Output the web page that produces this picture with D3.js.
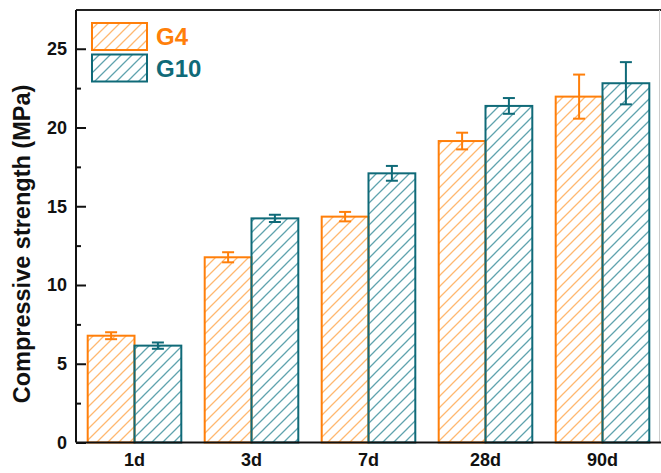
<!DOCTYPE html>
<html><head><meta charset="utf-8">
<script src="https://cdn.jsdelivr.net/npm/d3@7"></script>
<style>body{margin:0;background:#fff}svg{display:block}</style>
</head><body>
<svg id="c" width="661" height="473"></svg>
<script>
const categories = ["1d","3d","7d","28d","90d"];
const seriesNames = ["G4","G10"];
const g4Values = [6.78, 11.76, 14.34, 19.14, 21.96];
const g4Errors = [0.22, 0.32, 0.30, 0.53, 1.40];
const g10Values = [6.15, 14.23, 17.09, 21.37, 22.81];
const g10Errors = [0.20, 0.23, 0.47, 0.50, 1.34];
const yTicks = [0, 5, 10, 15, 20, 25];
const yMinorTicks = [2.5, 7.5, 12.5, 17.5, 22.5];
const yLabel = "Compressive strength (MPa)";

const colors = {G4: {stroke: "#FF7F0A", hatch: "#FFB870"}, G10: {stroke: "#0F6A78", hatch: "#5FA3AE"}};
const FONT = "Liberation Sans, Arial, sans-serif";

const svg = d3.select("#c");
const L = 76, R = 661, T = 10, B = 442.5;
const x = d3.scaleBand().domain(categories).range([L, R]).paddingInner(0.2).paddingOuter(0.1);
const xs = d3.scaleBand().domain(seriesNames).range([0, x.bandwidth()]);
const y = d3.scaleLinear().domain([0, 27.46]).range([B, T]);

const defs = svg.append("defs");
seriesNames.forEach(s => {
  const p = defs.append("pattern").attr("id", "h" + s).attr("patternUnits", "userSpaceOnUse")
    .attr("width", 11).attr("height", 11);
  p.append("path").attr("d", "M0,11 L11,0 M-2,2 L2,-2 M9,13 L13,9")
    .attr("stroke", colors[s].hatch).attr("stroke-width", 1.3).attr("fill", "none");
});

const data = [];
categories.forEach((c, i) => {
  data.push({cat: c, s: "G4", v: g4Values[i], e: g4Errors[i]});
  data.push({cat: c, s: "G10", v: g10Values[i], e: g10Errors[i]});
});

// bars
svg.append("g").selectAll("rect").data(data).join("rect")
  .attr("x", d => x(d.cat) + xs(d.s))
  .attr("y", d => y(d.v))
  .attr("width", xs.bandwidth())
  .attr("height", d => y(0) - y(d.v))
  .attr("fill", d => `url(#h${d.s})`)
  .attr("stroke", d => colors[d.s].stroke)
  .attr("stroke-width", 2);

// error bars
const eg = svg.append("g");
data.forEach(d => {
  const cx = x(d.cat) + xs(d.s) + xs.bandwidth() / 2;
  const col = colors[d.s].stroke;
  eg.append("line").attr("x1", cx).attr("x2", cx).attr("y1", y(d.v + d.e)).attr("y2", y(d.v - d.e))
    .attr("stroke", col).attr("stroke-width", 2);
  [d.v + d.e, d.v - d.e].forEach(v => {
    eg.append("line").attr("x1", cx - 6).attr("x2", cx + 6).attr("y1", y(v)).attr("y2", y(v))
      .attr("stroke", col).attr("stroke-width", 2);
  });
});

// frame
svg.append("line").attr("x1", L).attr("x2", R).attr("y1", T).attr("y2", T).attr("stroke", "#222").attr("stroke-width", 2);
svg.append("line").attr("x1", 659.5).attr("x2", 659.5).attr("y1", T).attr("y2", B).attr("stroke", "#ccc").attr("stroke-width", 1);

// y axis
const yAxis = svg.append("g").attr("transform", `translate(${L},0)`)
  .call(d3.axisLeft(y).tickValues(yTicks).tickSize(-10).tickPadding(9).tickFormat(d3.format("d")));
yAxis.select(".domain").attr("stroke", "#111").attr("stroke-width", 2).attr("d", `M0,${T}V${B}`);
yAxis.selectAll(".tick line").attr("stroke", "#111").attr("stroke-width", 2);
yAxis.selectAll(".tick text").attr("font-family", FONT)
  .attr("font-weight", "bold").attr("font-size", 18).attr("fill", "#111");
const yMinor = svg.append("g").attr("transform", `translate(${L},0)`)
  .call(d3.axisLeft(y).tickValues(yMinorTicks).tickSize(-5).tickFormat(""));
yMinor.select(".domain").remove();
yMinor.selectAll(".tick line").attr("stroke", "#111").attr("stroke-width", 2);

// x axis
const xAxis = svg.append("g").attr("transform", `translate(0,${B})`)
  .call(d3.axisBottom(x).tickSize(0).tickPadding(11));
xAxis.select(".domain").attr("stroke", "#111").attr("stroke-width", 2).attr("d", `M${L},0H${R}`);
xAxis.selectAll(".tick text").attr("font-family", FONT)
  .attr("font-weight", "bold").attr("font-size", 18).attr("fill", "#111");

// y label
svg.append("text").attr("transform", `translate(30,244) rotate(-90)`)
  .attr("text-anchor", "middle").attr("font-family", FONT)
  .attr("font-weight", "bold").attr("font-size", 23.5).attr("fill", "#111").text(yLabel);

// legend
const leg = svg.append("g");
seriesNames.forEach((s, i) => {
  const ly = 23 + i * 31.5;
  leg.append("rect").attr("x", 92).attr("y", ly).attr("width", 55).attr("height", 27)
    .attr("fill", `url(#h${s})`).attr("stroke", colors[s].stroke).attr("stroke-width", 2);
  leg.append("text").attr("x", 156).attr("y", ly + 22).attr("font-family", FONT)
    .attr("font-weight", "bold").attr("font-size", 24).attr("fill", colors[s].stroke).text(s);
});
</script>
</body></html>
